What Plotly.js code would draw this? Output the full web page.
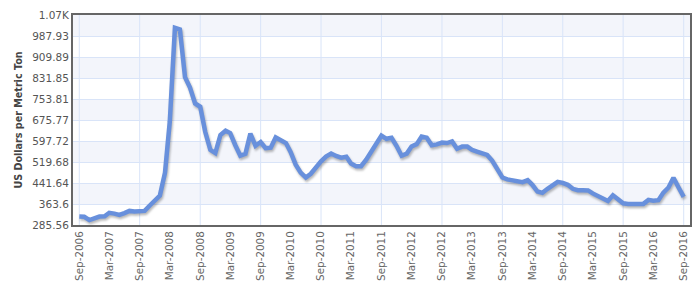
<!DOCTYPE html>
<html>
<head>
<meta charset="utf-8">
<script src="https://cdn.plot.ly/plotly-3.0.1.min.js"></script>
<style>
  html, body { margin: 0; padding: 0; background: #fff; }
  #chart { width: 700px; height: 297px; }
  .scatterlayer .trace path.js-line { filter: drop-shadow(1px 2px 1px rgba(0,0,0,0.28)); }
</style>
</head>
<body>
<div id="chart"></div>
<script>
// Monthly price, US Dollars per Metric Ton, Sep-2006 .. Sep-2016
const startYear = 2006;
const startMonth = 9;
const prices = [
  317, 316, 304, 312, 317, 318, 331, 328, 323, 330, 338, 336,
  336, 338, 358, 377, 395, 480, 670, 1018, 1012, 835, 796, 737,
  725, 632, 565, 553, 620, 636, 627, 582, 543, 550, 625, 580,
  594, 571, 573, 611, 601, 590, 557, 510, 480, 462, 476, 500,
  522, 540, 551, 542, 536, 539, 514, 504, 504, 528, 556, 586,
  618, 606, 610, 580, 543, 551, 577, 586, 614, 610, 582, 585,
  592, 590, 596, 569, 577, 577, 565, 558, 553, 546, 525, 490,
  462, 455, 452, 452, 445, 452, 435, 410, 405, 420, 435, 446,
  442, 435, 420, 415, 415, 414, 403, 395, 383, 375, 396, 379,
  366, 364, 363, 361, 364, 379, 376, 378, 406, 425, 461, 425,
  390
];
const xTickText = [
  'Sep-2006','Mar-2007','Sep-2007','Mar-2008','Sep-2008','Mar-2009','Sep-2009',
  'Mar-2010','Sep-2010','Mar-2011','Sep-2011','Mar-2012','Sep-2012','Mar-2013',
  'Sep-2013','Mar-2014','Sep-2014','Mar-2015','Sep-2015','Mar-2016','Sep-2016'
];
const yTickVals = [285.56, 363.6, 441.64, 519.68, 597.72, 675.77, 753.81, 831.85, 909.89, 987.93, 1065.97];
const yTickText = ['285.56','363.6','441.64','519.68','597.72','675.77','753.81','831.85','909.89','987.93','1.07K'];

function pad(n) { return (n < 10 ? '0' : '') + n; }
const dates = prices.map((_, i) => {
  const m = startMonth - 1 + i;
  return (startYear + Math.floor(m / 12)) + '-' + pad(m % 12 + 1) + '-01';
});
const xTickVals = xTickText.map((_, k) => dates[k * 6]);
const yearGrid = dates.filter((_, i) => i % 12 === 0);

const shapes = [];
for (let k = 1; k < yTickVals.length - 1; k += 2) {
  shapes.push({type: 'rect', layer: 'below', xref: 'paper', yref: 'y',
    x0: 0, x1: 1, y0: yTickVals[k], y1: yTickVals[k + 1],
    fillcolor: '#f3f5fb', line: {width: 0}});
}
yearGrid.forEach(d => shapes.push({type: 'line', layer: 'below', xref: 'x', yref: 'paper',
  x0: d, x1: d, y0: 0, y1: 1, line: {color: '#d9e4f8', width: 1}}));

const trace = {
  type: 'scatter', mode: 'lines', x: dates, y: prices,
  line: {color: '#6890dc', width: 4.5, shape: 'linear'},
  hoverinfo: 'x+y'
};

const layout = {
  width: 700, height: 297,
  margin: {l: 73, r: 10, t: 15, b: 72, pad: 0},
  paper_bgcolor: '#ffffff', plot_bgcolor: '#ffffff',
  showlegend: false,
  font: {family: 'DejaVu Sans, Verdana, sans-serif', color: '#555'},
  shapes: shapes,
  xaxis: {
    type: 'date',
    range: ['2006-07-25', '2016-10-09'],
    tickmode: 'array', tickvals: xTickVals, ticktext: xTickText,
    tickangle: -90, tickfont: {size: 10.4, color: '#666'},
    showgrid: false, zeroline: false,
    showline: true, linecolor: '#666', linewidth: 2, mirror: true,
    ticks: '', ticklen: 0
  },
  yaxis: {
    range: [yTickVals[0], yTickVals[yTickVals.length - 1]],
    tickmode: 'array', tickvals: yTickVals, ticktext: yTickText,
    tickfont: {size: 10.5, color: '#555'},
    showgrid: true, gridcolor: '#d9e4f8', gridwidth: 1, zeroline: false,
    showline: true, linecolor: '#666', linewidth: 2, mirror: true,
    ticks: '', ticklen: 0,
    title: {text: 'US Dollars per Metric Ton', font: {size: 9.6, color: '#444', family: 'DejaVu Sans, Verdana, sans-serif', weight: 'bold'}, standoff: 8}
  }
};

Plotly.newPlot('chart', [trace], layout, {displayModeBar: false, staticPlot: true});
</script>
</body>
</html>
